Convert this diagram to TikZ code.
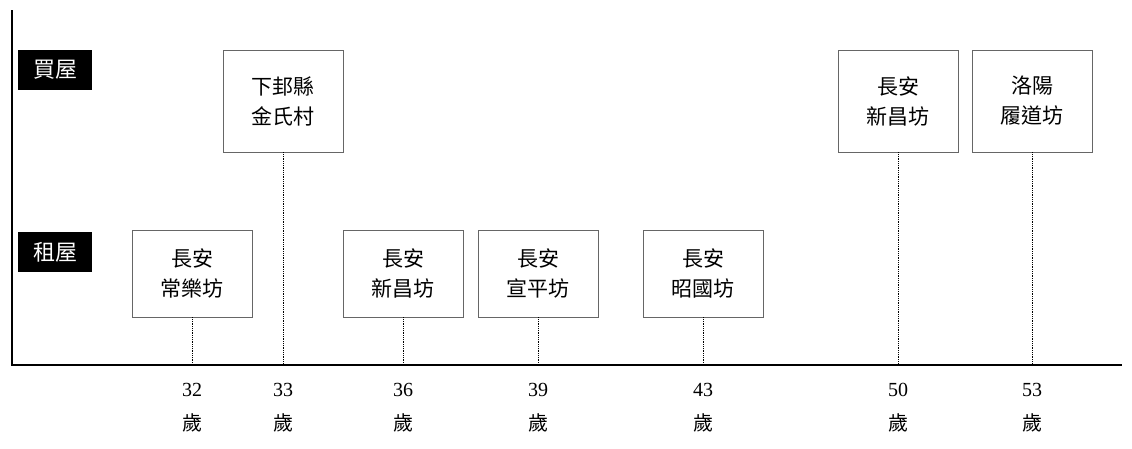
\documentclass[tikz,border=0pt]{standalone}
\usepackage{fontspec}
\newfontfamily\cjk{Noto Sans CJK TC}
\setmainfont{Liberation Serif}
\usetikzlibrary{positioning}

\begin{document}
\begin{tikzpicture}[x=1pt, y=-1pt]
  \tikzset{place/.style={draw=black!60, fill=white, minimum width=120pt, align=center, font=\cjk\fontsize{21}{30}\selectfont},
           tag/.style={fill=black, text=white, minimum width=74pt, minimum height=40pt, font=\cjk\fontsize{22}{24}\selectfont},
           age/.style={align=center, font=\fontsize{20}{34}\selectfont},
           guide/.style={densely dotted, thick}}
  \useasboundingbox (0,0) rectangle (1132,448);
  \coordinate (O) at (12,365);
  \coordinate (top) at (12,10);
  \coordinate (end) at (1122,365);
  \draw[line width=2pt] (top) -- (O) -- (end);
  \node [tag] at (55,70) (buy) {買屋};
  \node [tag] at (55,252) (rent) {租屋};
  % rented places
  \foreach \name/\x/\txt/\n in {A/192/常樂坊/32, C/403/新昌坊/36, D/538/宣平坊/39, E/703/昭國坊/43}{
    \node [place, minimum height=87pt] at (\x,273.5) (\name) {長安\\\txt};
    \coordinate (\name tick) at (\x,365);
    \draw[guide] (\name) -- (\name tick);
    \node [age] at (\x,408) (\name age) {\n\\{\cjk 歲}};
  }
  % bought places
  \foreach \name/\x/\one/\two/\n in {B/283/下邽縣/金氏村/33, F/898/長安/新昌坊/50, G/1032/洛陽/履道坊/53}{
    \node [place, minimum height=102pt] at (\x,101) (\name) {\one\\\two};
    \coordinate (\name tick) at (\x,365);
    \draw[guide] (\name) -- (\name tick);
    \node [age] at (\x,408) (\name age) {\n\\{\cjk 歲}};
  }
\end{tikzpicture}
\end{document}
